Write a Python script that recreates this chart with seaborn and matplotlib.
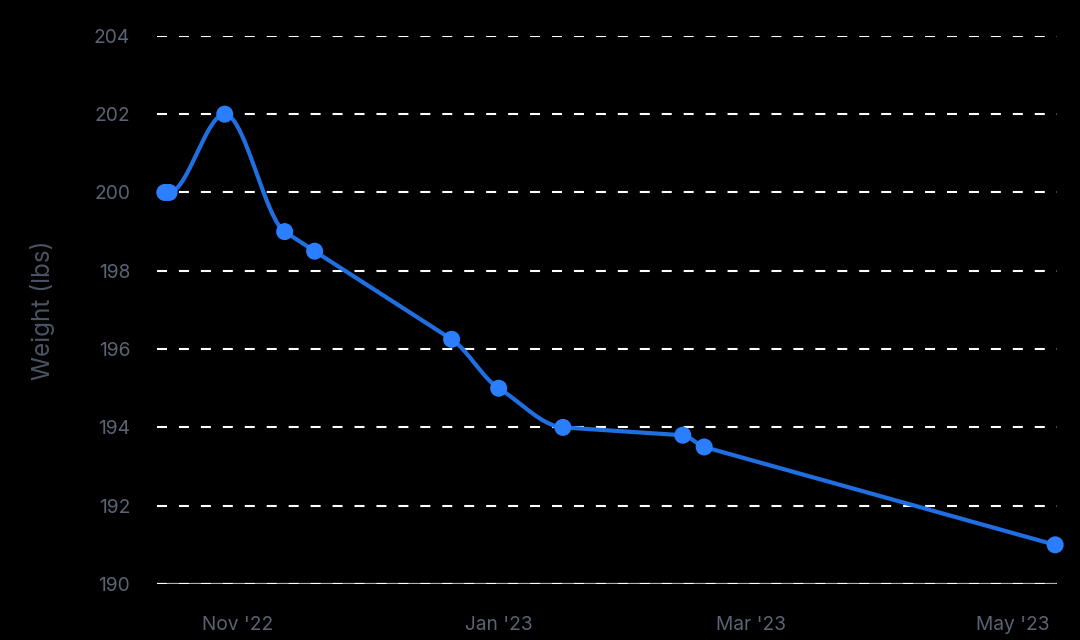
import numpy as np
import pandas as pd
import matplotlib
matplotlib.use("Agg")
import matplotlib.pyplot as plt
import matplotlib.dates as mdates
import seaborn as sns

# weigh-in log
dates = ["2022-10-15", "2022-10-16", "2022-10-29", "2022-11-12", "2022-11-19",
         "2022-12-21", "2023-01-01", "2023-01-16", "2023-02-13", "2023-02-18",
         "2023-05-11"]
weights = [200, 200, 202, 199, 198.5, 196.25, 195, 194, 193.8, 193.5, 191]
y_ticks = [190, 192, 194, 196, 198, 200, 202, 204]

df = pd.DataFrame({"date": pd.to_datetime(dates), "weight": weights})


def monotone_curve(x, y, per_seg=40):
    """Smooth monotone cubic through the points (minmod tangents, no overshoot)."""
    x = np.asarray(x, float)
    y = np.asarray(y, float)
    n = len(x)
    dx = np.diff(x)
    delta = np.diff(y) / dx
    m = np.zeros(n)
    m[0] = delta[0]
    m[-1] = delta[-1]
    for i in range(1, n - 1):
        a, b = delta[i - 1], delta[i]
        if a == 0 or b == 0 or np.sign(a) != np.sign(b):
            m[i] = 0
        else:
            m[i] = np.sign(a) * min(abs(a), abs(b))
    xs, ys = [], []
    for i in range(n - 1):
        t = np.linspace(0, 1, per_seg, endpoint=(i == n - 2))
        h00 = 2 * t**3 - 3 * t**2 + 1
        h10 = t**3 - 2 * t**2 + t
        h01 = -2 * t**3 + 3 * t**2
        h11 = t**3 - t**2
        xs.append(x[i] + t * dx[i])
        ys.append(h00 * y[i] + h10 * dx[i] * m[i] + h01 * y[i + 1] + h11 * dx[i] * m[i + 1])
    return np.concatenate(xs), np.concatenate(ys)


xnum = mdates.date2num(df["date"])
cx, cy = monotone_curve(xnum, df["weight"])
curve = pd.DataFrame({"date": mdates.num2date(cx), "weight": cy})

sns.set_theme(style="dark")
plt.rcParams["font.family"] = ["Inter", "DejaVu Sans"]
plt.rcParams["lines.scale_dashes"] = False

fig = plt.figure(figsize=(10.8, 6.4), dpi=100, facecolor="black")
ax = fig.add_axes([0.145, 0.0875, 0.834, 0.8565])
ax.set_facecolor("black")

# grid: solid base line at the bottom, then white dashes
ax.axhline(190, color="#b0b0b4", lw=1.6, zorder=1)
for yv in y_ticks:
    ax.axhline(yv, color="white", lw=1.5, linestyle=(0, (7.2, 8.6)), zorder=1.5)

sns.lineplot(data=curve, x="date", y="weight", sort=False, color="#1f6fe3",
             linewidth=3.0, ax=ax, zorder=3)
sns.scatterplot(data=df, x="date", y="weight", color="#2b7fff", s=150,
                edgecolor="none", ax=ax, zorder=4, clip_on=False)

ax.set_ylim(190, 204)
ax.set_yticks(y_ticks)
ax.set_xlim(pd.Timestamp("2022-10-13 02:00"), pd.Timestamp("2023-05-11 12:00"))
ax.xaxis.set_major_locator(mdates.MonthLocator(bymonth=[11, 1, 3, 5]))
ax.xaxis.set_major_formatter(mdates.DateFormatter("%b '%y"))

tick_color = "#5a6474"
ax.tick_params(axis="both", length=0, labelsize=13.8, labelcolor=tick_color)
ax.tick_params(axis="y", pad=19)
ax.tick_params(axis="x", pad=23)
ax.set_xlabel("")
ax.set_ylabel("Weight (lbs)", color="#4b5464", fontsize=17.5)
ax.yaxis.set_label_coords(-0.113, 0.5)
ax.grid(False)
for sp in ax.spines.values():
    sp.set_visible(False)

fig.savefig("out.png", dpi=100, facecolor="black")
